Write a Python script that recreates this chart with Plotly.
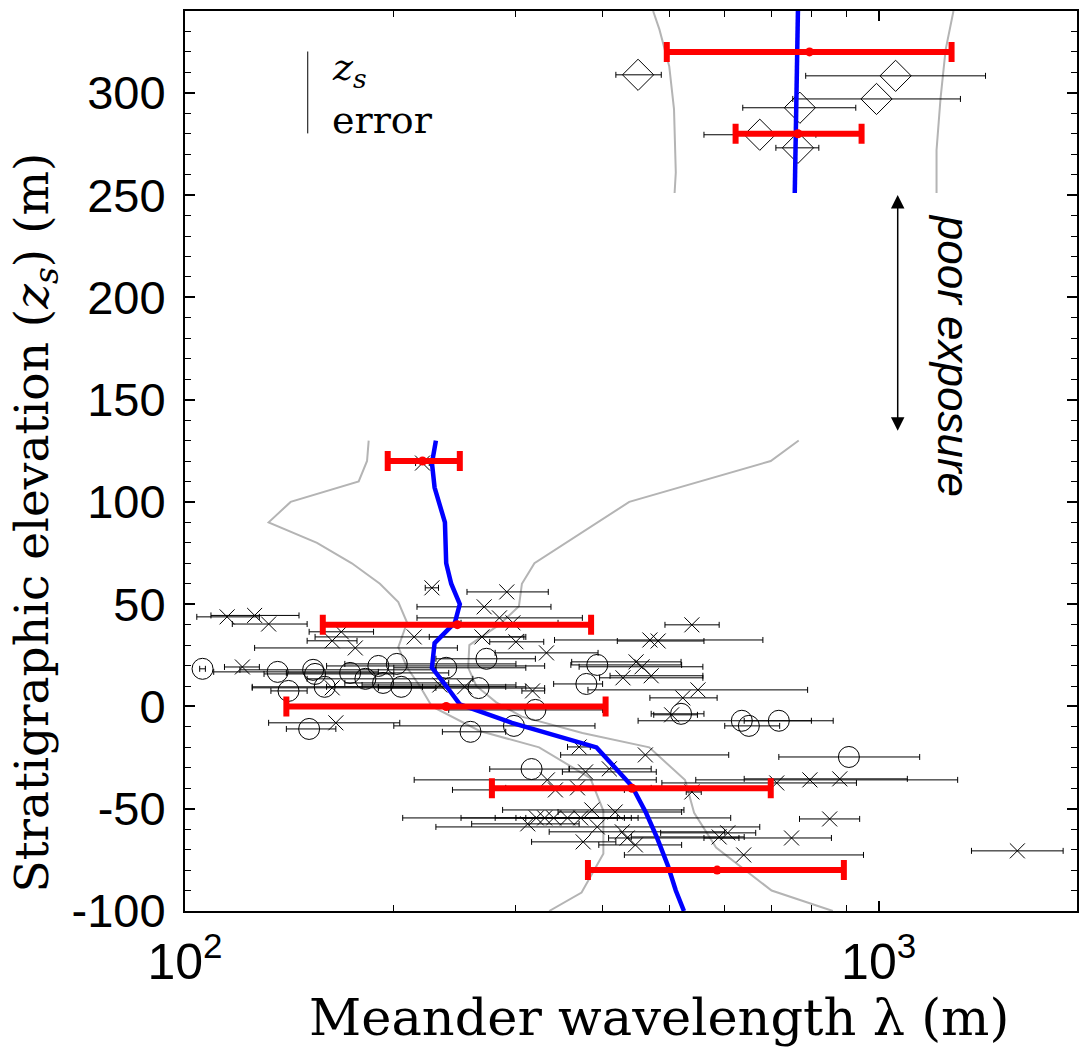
import plotly.graph_objects as go

# ---------------- data ----------------
# median (blue) profile, lower and upper sections
blue_low_z = [130, 119, 107, 90, 70, 60, 50, 41, 31, 19, 10, 1, -8, -17, -20, -39, -52, -64, -78, -90, -100]
blue_low_x = [230, 227, 229, 237, 238, 242, 249, 245, 229, 227, 238, 249, 296, 366, 392, 441, 462, 479, 497, 510, 524]
blue_up_z = [251, 340]
blue_up_x = [757, 765]

# confidence envelope (grey)
grey_ll_z = [130, 120, 110, 100, 90, 80, 70, 60, 51, 41, 29, 19, 10, 0, -12, -20, -35, -51, -72, -91, -100]
grey_ll_x = [184, 183, 178, 142, 132, 155, 174, 191, 203, 209, 203, 209, 218, 227, 266, 324, 384, 401, 401, 373, 335]
grey_lr_z = [130, 120, 100, 70, 60, 49, 40, 30, 19, 10, 2, -5, -13, -20, -36, -52, -69, -90, -100]
grey_lr_x = [767, 699, 437, 319, 306, 303, 284, 257, 256, 263, 281, 306, 374, 467, 526, 542, 583, 701, 859]
grey_ul_z = [340, 331, 313, 292, 261, 251]
grey_ul_x = [473, 483, 499, 507, 510, 508]
grey_ur_z = [340, 321, 297, 272, 251]
grey_ur_x = [1282, 1249, 1228, 1212, 1212]

# binned estimates (red) with error ranges
red_z = [320, 280, 120, 40, 0, -40, -80]
red_x = [795, 765, 220, 247, 238, 441, 585]
red_lo = [495, 622, 196, 158, 140, 277, 381]
red_hi = [1274, 945, 249, 385, 404, 699, 891]

# individual measurements: cross symbols
cross_z = [58, 56, 48.7, 43.8, 44.5, 40.3, 43.3, 40.9, 39.9, 36.5, 32.1, 28.6, 34, 34, 31.6, 32.5, 32,
           26.2, 21.8, 19.4, 14, 15, 8.1, 4.2, -4.1, 7.6, 19.3, 9.1, 10.5, 9.6, -8, -19.8, -23.7, -32,
           -30.5, -35.9, -40.8, -39.8, -41.8, -37.4, -35.9, -35.4, -55, -64.3, -70.6, -50.6, -51.6,
           -54.5, -54.5, -54.5, -54.5, -54.5, -57.4, -58.9, -61.3, -64.3, -66.2, -67.7, -63.8, -61.8,
           -72.6, 119]
cross_x = [227, 291, 270, 115, 126, 132, 284, 297, 538, 168, 163, 176, 214, 268, 300, 468, 481,
           332, 447, 456, 428, 470, 549, 522, 503, 317, 121, 163, 233, 253, 165, 370, 461, 378,
           409, 333, 342, 368, 538, 713, 796, 879, 850, 749, 1585, 386, 417,
           321, 330, 340, 356, 372, 312, 393, 427, 434, 375, 446, 589, 606,
           639, 220]
cross_lo = [222, 255, 216, 104, 109, 117, 216, 250, 492, 151, 150, 126, 154, 225, 275, 341, 420,
            280, 361, 370, 396, 410, 381, 468, 474, 306, 114, 125, 180, 190, 132, 356, 348, 350,
            358, 214, 243, 290, 528, 487, 545, 640, 769, 560, 1361, 287, 345,
            206, 250, 280, 300, 310, 259, 230, 335, 408, 316, 395, 440, 485,
            430, 215]
cross_hi = [232, 334, 337, 128, 146, 150, 374, 345, 589, 187, 177, 247, 308, 310, 329, 681, 560,
            394, 519, 558, 558, 558, 790, 585, 548, 330, 128, 230, 300, 310, 204, 384, 608, 478,
            470, 478, 430, 470, 555, 929, 1300, 1100, 939, 855, 1845, 524, 520,
            612, 420, 430, 440, 450, 370, 674, 600, 629, 418, 520, 640, 665,
            951, 225]

# individual measurements: circle symbols
circ_z = [18.4, 16.9, 17.9, 15.9, 7.6, 9.6, 16.4, 13.5, 19.8, 20.8, 11.5, 9.6, 18.9, 9, 23.3, 20.3,
          11, -3.6, -7, -9.5, -7, -1.7, -9.5, -12.4, -30.6, -24.7, -11]
circ_x = [106, 136, 153, 154, 141, 159, 173, 182, 190, 202, 193, 205, 238, 265, 272, 393,
          379, 519, 635, 650, 718, 320, 298, 258, 316, 906, 151]
circ_lo = [105, 110, 120, 130, 133, 125, 140, 150, 160, 170, 170, 160, 200, 190, 230, 360,
           340, 470, 450, 600, 640, 240, 200, 235, 275, 718, 140]
circ_hi = [107, 190, 230, 200, 150, 220, 240, 260, 330, 300, 240, 290, 310, 330, 320, 520,
           400, 560, 860, 720, 800, 400, 390, 290, 358, 1146, 165]

# individual measurements: diamond symbols (upper section)
diam_z = [308.8, 308.3, 297, 292.7, 279.5, 273.1]
diam_x = [450, 1058, 993, 770, 674, 765]
diam_lo = [418, 785, 752, 637, 560, 711]
diam_hi = [486, 1426, 1312, 927, 812, 820]

y_ticks = [-100, -50, 0, 50, 100, 150, 200, 250, 300]
y_ticktext = ["-100", "-50", "0", "50", "100", "150", "200", "250", "300"]
x_ticks = [100, 1000]
x_ticktext = ["10<sup>2</sup>", "10<sup>3</sup>"]
x_minor = [200, 300, 400, 500, 600, 700, 800, 900]

x_title = "Meander wavelength λ (m)"
y_title = "Stratigraphic elevation (<i>z</i><sub><i>s</i></sub>) (m)"

# ---------------- figure ----------------
fig = go.Figure()

GREY = "#b4b4b4"
for xs, zs in [(grey_ll_x, grey_ll_z), (grey_lr_x, grey_lr_z), (grey_ul_x, grey_ul_z), (grey_ur_x, grey_ur_z)]:
    fig.add_trace(go.Scatter(x=xs, y=zs, mode="lines", line=dict(color=GREY, width=2),
                             hoverinfo="skip", showlegend=False))


def err(x, lo, hi):
    return [h - v for v, h in zip(x, hi)], [v - l for v, l in zip(x, lo)]


for xs, zs, lo, hi, sym, size in [
    (cross_x, cross_z, cross_lo, cross_hi, "x-thin-open", 15),
    (circ_x, circ_z, circ_lo, circ_hi, "circle-open", 21),
    (diam_x, diam_z, diam_lo, diam_hi, "diamond-open", 24),
]:
    plus, minus = err(xs, lo, hi)
    fig.add_trace(go.Scatter(
        x=xs, y=zs, mode="markers",
        marker=dict(symbol=sym, size=size, color="black", line=dict(color="black", width=1)),
        error_x=dict(type="data", symmetric=False, array=plus, arrayminus=minus,
                     color="black", thickness=1, width=3),
        showlegend=False))

fig.add_trace(go.Scatter(x=blue_low_x, y=blue_low_z, mode="lines", line=dict(color="#0000ff", width=4.5),
                         showlegend=False))
fig.add_trace(go.Scatter(x=blue_up_x, y=blue_up_z, mode="lines", line=dict(color="#0000ff", width=4.5),
                         showlegend=False))

rp, rm = err(red_x, red_lo, red_hi)
fig.add_trace(go.Scatter(
    x=red_x, y=red_z, mode="markers",
    marker=dict(symbol="circle", size=9, color="#ff0000"),
    error_x=dict(type="data", symmetric=False, array=rp, arrayminus=rm,
                 color="#ff0000", thickness=6, width=10),
    showlegend=False))

SERIF = "DejaVu Serif"

# legend-like key (top left)
fig.add_shape(type="line", xref="paper", yref="paper", x0=0.1376, x1=0.1376, y0=0.955, y1=0.864,
              line=dict(color="black", width=1))
fig.add_annotation(xref="paper", yref="paper", x=0.163, y=0.935, xanchor="left", yanchor="middle",
                   text="<i>z</i><sub><i>s</i></sub>", showarrow=False,
                   font=dict(family=SERIF, size=38, color="black"))
fig.add_annotation(xref="paper", yref="paper", x=0.163, y=0.879, xanchor="left", yanchor="middle",
                   text="error", showarrow=False,
                   font=dict(family=SERIF, size=38, color="black"))

# poor exposure arrow + label
fig.add_annotation(xref="paper", yref="y", x=0.799, y=250, axref="pixel", ayref="y", ax=0, ay=134,
                   showarrow=True, arrowhead=2, startarrowhead=2, arrowside="end+start",
                   arrowsize=1.8, arrowwidth=1.5, arrowcolor="black", text="")
fig.add_annotation(xref="paper", yref="paper", x=0.861, y=0.618, xanchor="center", yanchor="middle",
                   text="<i>poor exposure</i>", textangle=90, showarrow=False,
                   font=dict(family="Liberation Sans", size=44, color="black"))

# axis titles
fig.add_annotation(xref="paper", yref="paper", x=0.5313, y=-0.118, xanchor="center", yanchor="middle",
                   text=x_title, showarrow=False,
                   font=dict(family=SERIF, size=51, color="black"))
fig.add_annotation(xref="paper", yref="paper", x=-0.1678, y=0.432, xanchor="center", yanchor="middle",
                   text=y_title, textangle=-90, showarrow=False,
                   font=dict(family=SERIF, size=47, color="black"))

fig.update_layout(
    width=1080, height=1051,
    margin=dict(l=185, r=1, t=11, b=140),
    plot_bgcolor="white", paper_bgcolor="white",
    showlegend=False,
)
fig.update_xaxes(
    type="log", range=[2, 3.286],
    tickvals=x_ticks, ticktext=x_ticktext,
    ticks="inside", ticklen=10, tickwidth=1.5, tickcolor="black",
    minor=dict(tickvals=x_minor, ticks="inside", ticklen=6, tickwidth=1, tickcolor="black"),
    showline=True, linecolor="black", linewidth=2, mirror="ticks",
    showgrid=False, zeroline=False,
    ticklabelstandoff=6,
    tickfont=dict(family="Liberation Sans", size=50, color="black"),
)
fig.update_yaxes(
    range=[-100, 340],
    tickvals=y_ticks, ticktext=y_ticktext,
    ticks="inside", ticklen=10, tickwidth=1.5, tickcolor="black",
    minor=dict(dtick=10, ticks="inside", ticklen=6, tickwidth=1, tickcolor="black"),
    showline=True, linecolor="black", linewidth=2, mirror="ticks",
    showgrid=False, zeroline=False,
    ticklabelstandoff=8,
    tickfont=dict(family="Liberation Sans", size=47, color="black"),
)

fig.write_html("out.html")
